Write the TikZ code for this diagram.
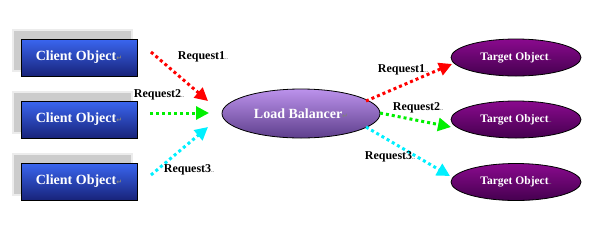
\documentclass[tikz,border=0pt]{standalone}
\usepackage{fontspec}
\setmainfont{Liberation Serif}[BoldFont={Liberation Serif Bold}]
\newfontfamily\symfont{DejaVu Sans}
\usetikzlibrary{arrows.meta,shapes.geometric}
\definecolor{cliTop}{HTML}{3A66F0}
\definecolor{cliBot}{HTML}{18237A}
\definecolor{lbTop}{HTML}{BC92EC}
\definecolor{lbBot}{HTML}{5E3F8C}
\definecolor{tgTop}{HTML}{8A0A8E}
\definecolor{tgBot}{HTML}{45004F}
\definecolor{reqRed}{HTML}{FF0000}
\definecolor{reqGreen}{HTML}{00F000}
\definecolor{reqCyan}{HTML}{00F0FF}
\newcommand{\pmark}{{\symfont\fontsize{7}{7}\selectfont\color{gray}↵}}
\newcommand{\dmark}{{\fontsize{6}{6}\selectfont\color{gray}..}}
\tikzset{
  clientbox/.style={rectangle, draw=black, line width=1pt, minimum width=116pt, minimum height=37pt,
    top color=cliTop, bottom color=cliBot, text=white, font=\fontsize{14}{14}\selectfont\bfseries, inner sep=0pt},
  shadowbox/.style={draw=gray!15, line width=2pt, fill=gray!40},
  lbnode/.style={ellipse, draw=black, line width=0.8pt, minimum width=158pt, minimum height=49pt,
    top color=lbTop, bottom color=lbBot, text=white, font=\fontsize{14}{14}\selectfont\bfseries, inner sep=0pt},
  tgnode/.style={ellipse, draw=black, line width=0.8pt, minimum width=130pt, minimum height=37pt,
    top color=tgTop, bottom color=tgBot, text=white, font=\fontsize{11.5}{11.5}\selectfont\bfseries, inner sep=0pt},
  reqline/.style={line width=3pt, dash pattern=on 3pt off 3pt, -{Triangle[length=13pt,width=13pt]}},
  reqlabel/.style={font=\fontsize{12}{12}\selectfont\bfseries, text=black, inner sep=0pt},
}
\begin{document}
\begin{tikzpicture}[x=1pt,y=-1pt]
\useasboundingbox (0,0) rectangle (601,239);
% shadows
\foreach \yy in {57.5,119.5,181.5}{
  \fill[shadowbox] (13,\yy-27.5) rectangle (132,\yy+13.5);
}
\node[clientbox] (c1) at (79,57.5) {Client Object\pmark};
\node[clientbox] (c2) at (79,119.5) {Client Object\pmark};
\node[clientbox] (c3) at (79,181.5) {Client Object\pmark};
\node[lbnode] (lb) at (301,113.5) {Load Balancer\pmark};
\node[tgnode] (t1) at (516,57.5) {Target Object\dmark};
\node[tgnode] (t2) at (516,119.5) {Target Object\dmark};
\node[tgnode] (t3) at (516,182) {Target Object\dmark};
% left arrows
\coordinate (a1s) at (151,52);  \coordinate (a1e) at (208,101);
\coordinate (a2s) at (150,113); \coordinate (a2e) at (209,113);
\coordinate (a3s) at (151,175); \coordinate (a3e) at (208,127);
\draw[reqline, reqRed] (a1s) -- (a1e);
\draw[reqline, reqGreen] (a2s) -- (a2e);
\draw[reqline, reqCyan] (a3s) -- (a3e);
% right arrows
\coordinate (b1s) at (366,101); \coordinate (b1e) at (452,64);
\coordinate (b2s) at (380,113); \coordinate (b2e) at (451,127);
\coordinate (b3s) at (366,127); \coordinate (b3e) at (450,176);
\draw[reqline, reqRed] (b1s) -- (b1e);
\draw[reqline, reqGreen] (b2s) -- (b2e);
\draw[reqline, reqCyan] (b3s) -- (b3e);
% labels
\node[reqlabel] (l1) at (203,57) {Request1\dmark};
\node[reqlabel] (l2) at (159,95) {Request2\dmark};
\node[reqlabel] (l3) at (189,170) {Request3\dmark};
\node[reqlabel] (r1) at (403,70) {Request1\dmark};
\node[reqlabel] (r2) at (418,108) {Request2\dmark};
\node[reqlabel] (r3) at (390,157) {Request3\dmark};
\end{tikzpicture}
\end{document}
